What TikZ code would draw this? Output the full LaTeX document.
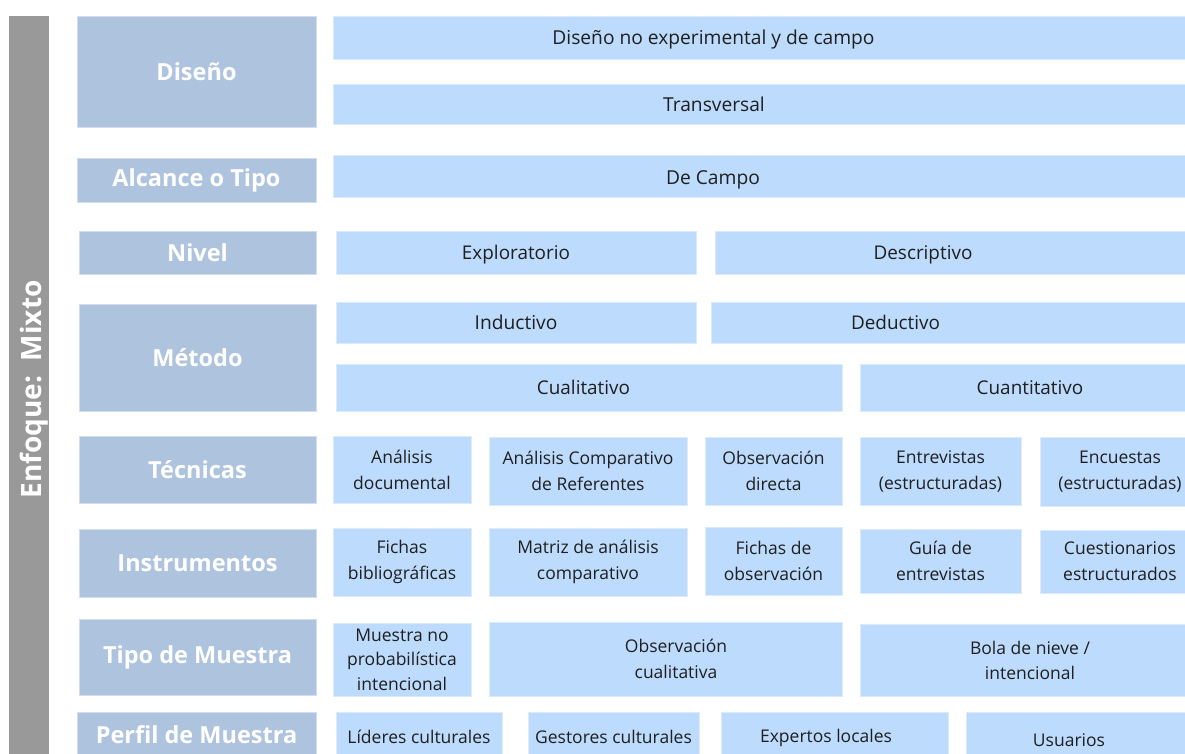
\documentclass[tikz,border=0pt]{standalone}
\usepackage{fontspec}
\setmainfont{Open Sans}
\definecolor{headblue}{HTML}{ADC3DE}
\definecolor{cellblue}{HTML}{BDDBFC}
\definecolor{bargray}{HTML}{999999}
\tikzstyle{head} = [rectangle, fill=headblue, draw=headblue!55!white, line width=0.6pt,
text=white, font=\bfseries\fontsize{23.5}{28}\selectfont, inner sep=0pt, align=center]
\tikzstyle{cell} = [rectangle, fill=cellblue, draw=cellblue!55!white, line width=0.6pt,
text=black!88, font=\fontsize{17.5}{26}\selectfont, inner sep=0pt, align=center]
\tikzstyle{one} = [text height=16.5pt, text depth=2pt]
\tikzstyle{txt} = [text=black!88, font=\fontsize{17.5}{26}\selectfont, inner sep=0pt, align=center, text height=16.5pt, text depth=2pt]
\tikzstyle{big} = [font=\fontsize{19.2}{26}\selectfont]
\tikzstyle{mid} = [font=\fontsize{18.9}{26}\selectfont]
\tikzstyle{bar} = [rectangle, fill=bargray, inner sep=0pt]
\tikzstyle{bartxt} = [text=white, font=\bfseries\fontsize{28}{32}\selectfont, inner sep=0pt]

\begin{document}
\begin{tikzpicture}[x=1pt, y=1pt]
        \useasboundingbox[fill=white] (0,0) rectangle (1185,-754);
        % \draw[help lines] (0,0) grid (1185,-754);

        % barra lateral
        \node[bar, minimum width=40pt, minimum height=744pt] (barra) at (29,-388) {};
        \node[bartxt, rotate=90] (enfoque) at (34,-389.5) {Enfoque:\ \ Mixto};

        % encabezados
        \node[head, minimum width=239pt, minimum height=111pt] (diseno) at (196.5,-71.5) {Diseño};
        \node[head, minimum width=239pt, minimum height=44pt] (alcance) at (196.5,-180) {Alcance o Tipo};
        \node[head, minimum width=237pt, minimum height=43pt] (nivel) at (197.5,-252.5) {Nivel};
        \node[head, minimum width=237pt, minimum height=107pt] (metodo) at (197.5,-357.5) {Método};
        \node[head, minimum width=237pt, minimum height=67pt] (tecnicas) at (197.5,-469.5) {Técnicas};
        \node[head, minimum width=237pt, minimum height=68pt] (instrumentos) at (197.5,-563) {Instrumentos};
        \node[head, minimum width=237pt, minimum height=76pt] (tipo) at (197.5,-657) {Tipo de Muestra};
        \node[head, minimum width=239pt, minimum height=46pt] (perfil) at (196.5,-735) {Perfil de Muestra};

        % diseno / alcance
        \node[cell, minimum width=859pt, minimum height=43pt] (noexp) at (762.5,-37.5) {};
        \node[txt, big] (noexpt) at (713.5,-37.5) {Diseño no experimental y de campo};
        \node[cell, minimum width=859pt, minimum height=40pt] (transv) at (762.5,-104) {};
        \node[txt, big] (transvt) at (714,-104) {Transversal};
        \node[cell, minimum width=859pt, minimum height=42pt] (campo) at (762.5,-176) {};
        \node[txt, big] (campot) at (713,-177.5) {De Campo};

        % nivel
        \node[cell, one, mid, minimum width=360pt, minimum height=43pt] (explo) at (516,-252.5) {Exploratorio};
        \node[cell, minimum width=477pt, minimum height=43pt] (descr) at (953.5,-252.5) {};
        \node[txt, mid] (descrt) at (923,-252.5) {Descriptivo};

        % metodo
        \node[cell, one, big, minimum width=360pt, minimum height=41pt] (induc) at (516,-322.5) {Inductivo};
        \node[cell, minimum width=481pt, minimum height=41pt] (deduc) at (951.5,-322.5) {};
        \node[txt, mid] (deduct) at (895.5,-322.5) {Deductivo};
        \node[cell, minimum width=506pt, minimum height=47pt] (cuali) at (589,-387.5) {};
        \node[txt, mid] (cualit) at (583.5,-387.5) {Cualitativo};
        \node[cell, one, mid, minimum width=340pt, minimum height=47pt] (cuanti) at (1030,-387.5) {Cuantitativo};

        % tecnicas
        \node[cell, minimum width=138pt, minimum height=67pt] (anadoc) at (402,-469.5) {Análisis\\documental};
        \node[cell, minimum width=198pt, minimum height=68pt] (anacomp) at (588,-471) {Análisis Comparativo\\de Referentes};
        \node[cell, minimum width=137pt, minimum height=68pt] (obsdir) at (773.5,-471) {Observación\\directa};
        \node[cell, minimum width=161pt, minimum height=68pt] (entrev) at (940.5,-471) {Entrevistas\\(estructuradas)};
        \node[cell, minimum width=160pt, minimum height=69pt] (encues) at (1120,-471.5) {Encuestas\\(estructuradas)};

        % instrumentos
        \node[cell, minimum width=138pt, minimum height=68pt] (fichbib) at (402,-562) {Fichas\\bibliográficas};
        \node[cell, minimum width=198pt, minimum height=68pt] (matriz) at (588,-562) {Matriz de análisis\\comparativo};
        \node[cell, minimum width=137pt, minimum height=68pt] (fichobs) at (773.5,-561) {Fichas de\\observación};
        \node[cell, minimum width=161pt, minimum height=64pt] (guia) at (940.5,-561) {Guía de\\entrevistas};
        \node[cell, minimum width=160pt, minimum height=63pt] (cuest) at (1120,-561.5) {Cuestionarios\\estructurados};

        % tipo de muestra
        \node[cell, font=\fontsize{17.5}{24.5}\selectfont, minimum width=138pt, minimum height=73pt] (muestra) at (402,-659.5) {Muestra no\\probabilística\\intencional};
        \node[cell, minimum width=353pt, minimum height=74pt] (obscual) at (665.5,-659) {};
        \node[txt, text height=, text depth=] (obscualt) at (676,-659) {Observación\\cualitativa};
        \node[cell, font=\fontsize{17.5}{25}\selectfont, minimum width=340pt, minimum height=72pt] (bola) at (1030,-660) {Bola de nieve /\\intencional};

        % perfil de muestra
        \node[cell, one, minimum width=166pt, minimum height=48pt] (lideres) at (419,-736) {Líderes culturales};
        \node[cell, one, minimum width=171pt, minimum height=48pt] (gestores) at (613.5,-736) {Gestores culturales};
        \node[cell, minimum width=227pt, minimum height=48pt] (expertos) at (834.5,-736) {};
        \node[txt] (expertost) at (826,-735) {Expertos locales};
        \node[cell, minimum width=234pt, minimum height=48pt] (usuarios) at (1083,-736) {};
        \node[txt] (usuariost) at (1069,-739) {Usuarios};

    \end{tikzpicture}
\end{document}
